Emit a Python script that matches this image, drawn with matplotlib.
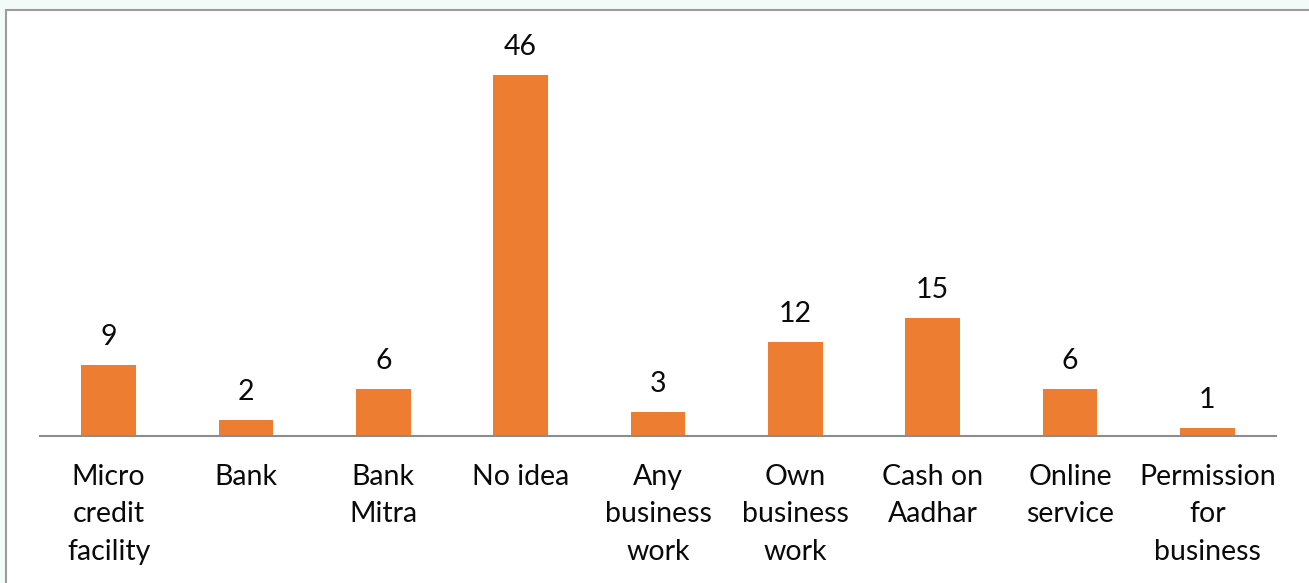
import matplotlib
matplotlib.use("Agg")
import matplotlib.pyplot as plt
from matplotlib.patches import Rectangle

categories = ["Micro\ncredit\nfacility", "Bank", "Bank\nMitra", "No idea",
              "Any\nbusiness\nwork", "Own\nbusiness\nwork", "Cash on\nAadhar",
              "Online\nservice", "Permission\nfor\nbusiness"]
values = [9, 2, 6, 46, 3, 12, 15, 6, 1]

plt.rcParams["font.family"] = ["Lato", "DejaVu Sans"]

W, H = 1309, 583
fig = plt.figure(figsize=(W / 100, H / 100), dpi=100, facecolor="#F3FBF8")

# white chart panel with a grey frame
panel = Rectangle((6 / W, -0.05), 1.05, 1 - 10 / H + 0.05, transform=fig.transFigure,
                  facecolor="white", edgecolor="#9C9C9C", linewidth=1.5, zorder=-1)
fig.patches.append(panel)

ax = fig.add_axes([40 / W, (H - 436) / H, 1236 / W, 392 / H])
ax.set_facecolor("none")
ax.set_zorder(1)
x = range(len(values))
bars = ax.bar(x, values, width=0.4, color="#ED7D31")
ax.set_xlim(-0.5, len(values) - 0.5)
ax.set_ylim(0, 50)

for xi, v in zip(x, values):
    ax.annotate(str(v), (xi, v), xytext=(0, 11), textcoords="offset points",
                ha="center", va="bottom", fontsize=20.5, color="#0A0A0A")

ax.set_xticks(list(x))
ax.set_xticklabels(categories, fontsize=20.5, color="#0A0A0A", linespacing=1.55)
ax.tick_params(axis="x", length=0, pad=20)
ax.set_yticks([])
for s in ["top", "right", "left"]:
    ax.spines[s].set_visible(False)
ax.spines["bottom"].set_color("#8C8C8C")
ax.spines["bottom"].set_linewidth(1.5)

fig.savefig("out.png", dpi=100, facecolor=fig.get_facecolor())
